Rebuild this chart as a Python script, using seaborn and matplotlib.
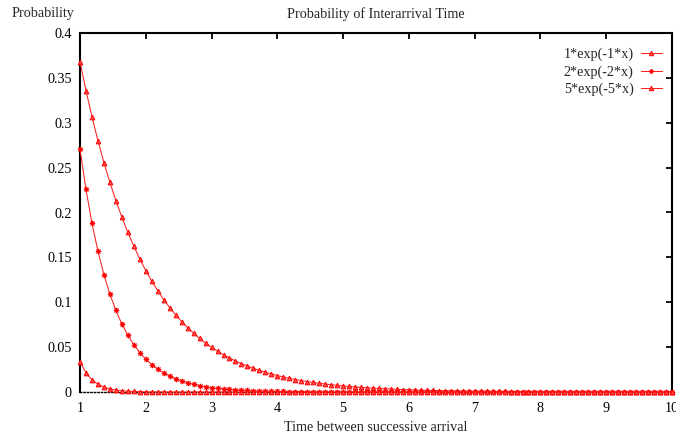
import matplotlib
matplotlib.use("Agg")
import matplotlib.pyplot as plt
import seaborn as sns
import pandas as pd

x_vals = [
    1.0, 1.0909, 1.1818, 1.2727, 1.3636, 1.4545, 1.5455, 1.6364, 1.7273, 1.8182, 1.9091,
    2.0, 2.0909, 2.1818, 2.2727, 2.3636, 2.4545, 2.5455, 2.6364, 2.7273, 2.8182, 2.9091,
    3.0, 3.0909, 3.1818, 3.2727, 3.3636, 3.4545, 3.5455, 3.6364, 3.7273, 3.8182, 3.9091,
    4.0, 4.0909, 4.1818, 4.2727, 4.3636, 4.4545, 4.5455, 4.6364, 4.7273, 4.8182, 4.9091,
    5.0, 5.0909, 5.1818, 5.2727, 5.3636, 5.4545, 5.5455, 5.6364, 5.7273, 5.8182, 5.9091,
    6.0, 6.0909, 6.1818, 6.2727, 6.3636, 6.4545, 6.5455, 6.6364, 6.7273, 6.8182, 6.9091,
    7.0, 7.0909, 7.1818, 7.2727, 7.3636, 7.4545, 7.5455, 7.6364, 7.7273, 7.8182, 7.9091,
    8.0, 8.0909, 8.1818, 8.2727, 8.3636, 8.4545, 8.5455, 8.6364, 8.7273, 8.8182, 8.9091,
    9.0, 9.0909, 9.1818, 9.2727, 9.3636, 9.4545, 9.5455, 9.6364, 9.7273, 9.8182, 9.9091,
    10.0,
]

y_rate1 = [
    0.3679, 0.3359, 0.3067, 0.2801, 0.2557, 0.2335, 0.2132, 0.1947, 0.1778, 0.1623, 0.1482,
    0.1353, 0.1236, 0.1128, 0.1030, 0.0941, 0.0859, 0.0784, 0.0716, 0.0654, 0.0597, 0.0545,
    0.0498, 0.0455, 0.0415, 0.0379, 0.0346, 0.0316, 0.0289, 0.0263, 0.0241, 0.0220, 0.0201,
    0.0183, 0.0167, 0.0153, 0.0139, 0.0127, 0.0116, 0.0106, 0.0097, 0.0089, 0.0081, 0.0074,
    0.0067, 0.0062, 0.0056, 0.0051, 0.0047, 0.0043, 0.0039, 0.0036, 0.0033, 0.0030, 0.0027,
    0.0025, 0.0023, 0.0021, 0.0019, 0.0017, 0.0016, 0.0014, 0.0013, 0.0012, 0.0011, 0.0010,
    0.0009, 0.0008, 0.0008, 0.0007, 0.0006, 0.0006, 0.0005, 0.0005, 0.0004, 0.0004, 0.0004,
    0.0003, 0.0003, 0.0003, 0.0003, 0.0002, 0.0002, 0.0002, 0.0002, 0.0002, 0.0001, 0.0001,
    0.0001, 0.0001, 0.0001, 0.0001, 0.0001, 0.0001, 0.0001, 0.0001, 0.0001, 0.0000, 0.0000,
    0.0000,
]

y_rate2 = [
    0.2707, 0.2257, 0.1882, 0.1569, 0.1308, 0.1091, 0.0909, 0.0758, 0.0632, 0.0527, 0.0439,
    0.0366, 0.0305, 0.0255, 0.0212, 0.0177, 0.0148, 0.0123, 0.0103, 0.0086, 0.0071, 0.0059,
    0.0050, 0.0041, 0.0034, 0.0029, 0.0024, 0.0020, 0.0017, 0.0014, 0.0012, 0.0010, 0.0008,
    0.0007, 0.0006, 0.0005, 0.0004, 0.0003, 0.0003, 0.0002, 0.0002, 0.0002, 0.0001, 0.0001,
    0.0001, 0.0001, 0.0001, 0.0001, 0.0000, 0.0000, 0.0000, 0.0000, 0.0000, 0.0000, 0.0000,
    0.0000, 0.0000, 0.0000, 0.0000, 0.0000, 0.0000, 0.0000, 0.0000, 0.0000, 0.0000, 0.0000,
    0.0000, 0.0000, 0.0000, 0.0000, 0.0000, 0.0000, 0.0000, 0.0000, 0.0000, 0.0000, 0.0000,
    0.0000, 0.0000, 0.0000, 0.0000, 0.0000, 0.0000, 0.0000, 0.0000, 0.0000, 0.0000, 0.0000,
    0.0000, 0.0000, 0.0000, 0.0000, 0.0000, 0.0000, 0.0000, 0.0000, 0.0000, 0.0000, 0.0000,
    0.0000,
]

y_rate5 = [
    0.0337, 0.0214, 0.0136, 0.0086, 0.0055, 0.0035, 0.0022, 0.0014, 0.0009, 0.0006, 0.0004,
    0.0002, 0.0001, 0.0001, 0.0001, 0.0000, 0.0000, 0.0000, 0.0000, 0.0000, 0.0000, 0.0000,
    0.0000, 0.0000, 0.0000, 0.0000, 0.0000, 0.0000, 0.0000, 0.0000, 0.0000, 0.0000, 0.0000,
    0.0000, 0.0000, 0.0000, 0.0000, 0.0000, 0.0000, 0.0000, 0.0000, 0.0000, 0.0000, 0.0000,
    0.0000, 0.0000, 0.0000, 0.0000, 0.0000, 0.0000, 0.0000, 0.0000, 0.0000, 0.0000, 0.0000,
    0.0000, 0.0000, 0.0000, 0.0000, 0.0000, 0.0000, 0.0000, 0.0000, 0.0000, 0.0000, 0.0000,
    0.0000, 0.0000, 0.0000, 0.0000, 0.0000, 0.0000, 0.0000, 0.0000, 0.0000, 0.0000, 0.0000,
    0.0000, 0.0000, 0.0000, 0.0000, 0.0000, 0.0000, 0.0000, 0.0000, 0.0000, 0.0000, 0.0000,
    0.0000, 0.0000, 0.0000, 0.0000, 0.0000, 0.0000, 0.0000, 0.0000, 0.0000, 0.0000, 0.0000,
    0.0000,
]

series_labels = ["1*exp(-1*x)", "2*exp(-2*x)", "5*exp(-5*x)"]
x_ticks = [1, 2, 3, 4, 5, 6, 7, 8, 9, 10]
y_ticks = [0, 0.05, 0.1, 0.15, 0.2, 0.25, 0.3, 0.35, 0.4]
y_tick_labels = ["0", "0.05", "0.1", "0.15", "0.2", "0.25", "0.3", "0.35", "0.4"]
title_text = "Probability of Interarrival Time"
x_label = "Time between successive arrival"
y_label = "Probability"

sns.set_style("white")
plt.rcParams["font.family"] = ["Liberation Serif", "DejaVu Serif"]
FS = 10.2

W, H = 676, 436
fig = plt.figure(figsize=(W / 100, H / 100), dpi=100)
ax = fig.add_axes([80 / W, 1 - 392 / H, (672 - 80) / W, (392 - 33) / H])

markers = ["^", (8, 2, 0), "^"]
ys = [y_rate1, y_rate2, y_rate5]
for lab, yv, mk in zip(series_labels, ys, markers):
    df = pd.DataFrame({"x": x_vals, "y": yv})
    sns.lineplot(data=df, x="x", y="y", ax=ax, color="#ff2020", linewidth=0.75,
                 marker=mk, markersize=3.4 if mk == "^" else 3.8, markeredgewidth=0.7,
                 markeredgecolor="#ff0000", markerfacecolor="#ff5050",
                 label=lab, zorder=3, clip_on=False)

ax.set_xlim(1, 10)
ax.set_ylim(0, 0.4)
ax.set_xticks(x_ticks)
ax.set_xticklabels([str(t) for t in x_ticks])
ax.set_yticks(y_ticks)
ax.set_yticklabels(y_tick_labels)
ax.set_xlabel("")
ax.set_ylabel("")

ax.tick_params(axis="both", which="major", direction="in", length=4, width=1.3,
               colors="black", labelsize=FS, top=True, right=True)
ax.tick_params(axis="x", pad=7)
ax.tick_params(axis="y", pad=6)
for side in ["left", "top", "right"]:
    ax.spines[side].set_linewidth(1.5)
    ax.spines[side].set_color("black")
ax.spines["bottom"].set_linewidth(1.0)
ax.spines["bottom"].set_color("black")
ax.spines["bottom"].set_linestyle((0, (1, 1.5)))
ax.grid(False)

leg = ax.legend(loc="upper right", bbox_to_anchor=(662 / W, 1 - 47.5 / H),
                bbox_transform=fig.transFigure, frameon=False, markerfirst=False,
                fontsize=FS, handlelength=1.5, handletextpad=0.5,
                labelspacing=0.30, borderpad=0, borderaxespad=0, numpoints=1)
for h in leg.legend_handles:
    h.set_markersize(3.2)

fig.text(376 / W, 1 - 14 / H, title_text, ha="center", va="center", fontsize=FS)
fig.text(12 / W, 1 - 14 / H, y_label, ha="left", va="center", fontsize=FS)
fig.text(376 / W, 1 - 427 / H, x_label, ha="center", va="center", fontsize=FS)

fig.savefig("out.png", dpi=100)
